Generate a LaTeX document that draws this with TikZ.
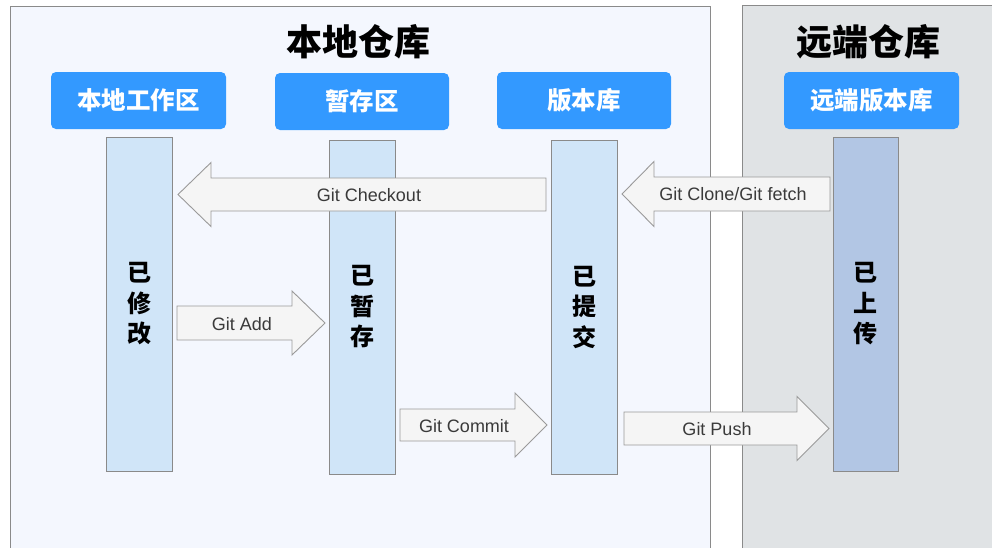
\documentclass[tikz,border=0pt]{standalone}
\usepackage{fontspec}
\setmainfont{Liberation Sans}
\newfontfamily\cjk{Noto Sans CJK SC}
\definecolor{localbg}{HTML}{F4F7FE}
\definecolor{remotebg}{HTML}{E0E3E5}
\definecolor{panelline}{HTML}{8A8A8A}
\definecolor{headblue}{HTML}{3399FF}
\definecolor{barblue}{HTML}{D0E5F8}
\definecolor{barremote}{HTML}{B2C6E4}
\definecolor{arrowfill}{HTML}{F5F5F5}
\definecolor{arrowline}{HTML}{9A9A9A}
\definecolor{labeltext}{HTML}{3A3A3A}
\tikzset{
  panel/.style={draw=panelline, line width=1pt},
  title/.style={font=\cjk\bfseries\fontsize{36}{40}\selectfont, text=black, inner sep=0pt},
  header/.style={fill=headblue, rounded corners=5pt, inner sep=0pt, text=white,
    font=\cjk\bfseries\fontsize{24.5}{28}\selectfont},
  bar/.style={draw=panelline, line width=0.8pt, inner sep=0pt, minimum width=66pt, minimum height=334pt,
    align=center, font=\cjk\bfseries\fontsize{24}{30.5}\selectfont},
  blockarrow/.style={draw=arrowline, fill=arrowfill, line width=0.9pt, line join=miter},
  arrowlabel/.style={text=labeltext, inner sep=0pt, font=\fontsize{18}{20}\selectfont}
}
% right-pointing block arrow: tail x, tip x, center y, shaft half, head half, head length
\newcommand{\rarrow}[6]{%
  \draw[blockarrow] (#1,#3-#4) -- (#2-#6,#3-#4) -- (#2-#6,#3-#5) -- (#2,#3)
    -- (#2-#6,#3+#5) -- (#2-#6,#3+#4) -- (#1,#3+#4) -- cycle;}
\newcommand{\larrow}[6]{%
  \draw[blockarrow] (#1,#3-#4) -- (#2+#6,#3-#4) -- (#2+#6,#3-#5) -- (#2,#3)
    -- (#2+#6,#3+#5) -- (#2+#6,#3+#4) -- (#1,#3+#4) -- cycle;}
\begin{document}
\begin{tikzpicture}[x=1pt,y=-1pt]
\useasboundingbox (0,0) rectangle (992,547);
\clip (0,0) rectangle (992,547);
\fill[white] (0,0) rectangle (992,547);
% panels
\draw[panel, fill=localbg] (10,6) rectangle (710,560);
\draw[panel, fill=remotebg] (742,5) rectangle (1000,560);
\node[title] (tlocal) at (358,42) {本地仓库};
\node[title] (tremote) at (868,42) {远端仓库};
% headers
\node[header, minimum width=175pt, minimum height=57pt] (h1) at (138.5,100.5) {本地工作区};
\node[header, minimum width=174pt, minimum height=57pt] (h2) at (362,101.5) {暂存区};
\node[header, minimum width=174pt, minimum height=57pt] (h3) at (584,100.5) {版本库};
\node[header, minimum width=175pt, minimum height=57pt] (h4) at (871.5,100.5) {远端版本库};
% bars
\node[bar, fill=barblue] (b1) at (139,304) {已\\修\\改};
\node[bar, fill=barblue] (b2) at (362.5,307) {已\\暂\\存};
\node[bar, fill=barblue] (b3) at (584,307) {已\\提\\交};
\node[bar, fill=barremote, minimum width=65pt] (b4) at (865.5,304) {已\\上\\传};
% arrows
\larrow{546}{178}{194.5}{16.5}{32}{33}
\node[arrowlabel] (lco) at (369,195) {Git Checkout};
\larrow{830}{622}{194}{17}{32.5}{32}
\node[arrowlabel] (lcl) at (733,194) {Git Clone/Git fetch};
\rarrow{177}{325}{323}{17}{32}{33}
\node[arrowlabel] (lad) at (242,324) {Git Add};
\rarrow{400}{547}{425}{16}{32}{32}
\node[arrowlabel] (lcm) at (464,426) {Git Commit};
\rarrow{624}{829}{428.5}{16.5}{32}{32}
\node[arrowlabel] (lpu) at (717,429) {Git Push};
\end{tikzpicture}
\end{document}
